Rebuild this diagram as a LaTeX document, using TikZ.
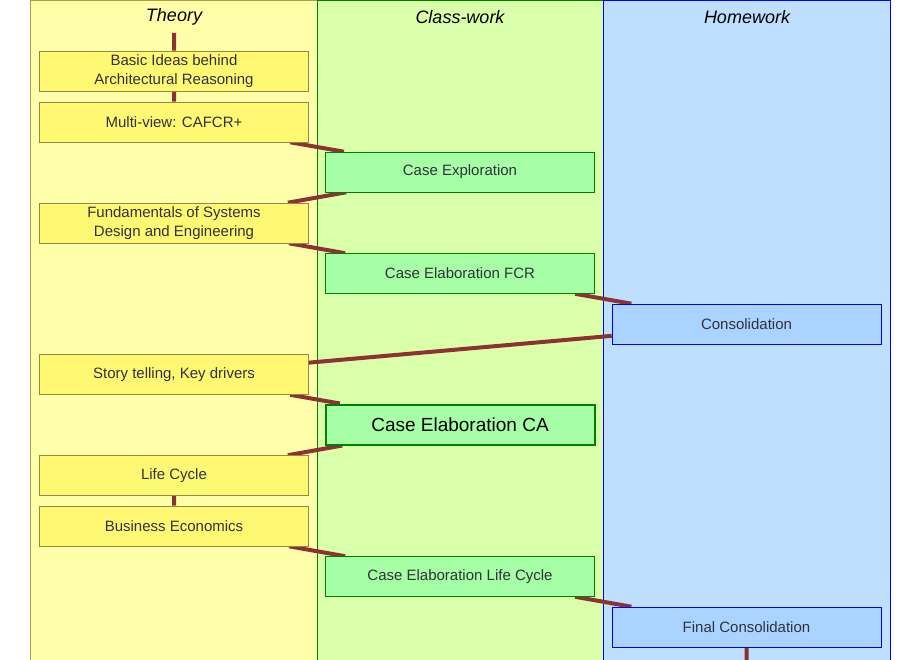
\documentclass[tikz,border=0pt]{standalone}
\usepackage{fontspec}
\setmainfont{Liberation Sans}
\usepackage{tikz}
\usetikzlibrary{backgrounds}
\definecolor{theorybg}{RGB}{255,255,170}
\definecolor{classbg}{RGB}{217,255,170}
\definecolor{homebg}{RGB}{191,223,255}
\definecolor{homebox}{RGB}{170,212,255}
\definecolor{linkred}{RGB}{140,50,50}
\definecolor{textgray}{RGB}{50,50,60}
\tikzset{
  column/.style={draw, line width=0.6pt},
  box/.style={draw, line width=0.6pt, minimum width=269pt, minimum height=40pt,
    align=center, text=textgray, font=\fontsize{15}{19}\selectfont, inner sep=1pt},
  theory/.style={box, fill=yellow!55, draw=yellow!50!black},
  class/.style={box, fill=green!35, draw=green!50!black},
  home/.style={box, fill=homebox, draw=blue},
  link/.style={draw=linkred, line width=4pt}
}
\begin{document}
\begin{tikzpicture}[x=1pt, y=-1pt]
  \useasboundingbox (0,0) rectangle (920,660);

  % theory
  \node[theory] (basic) at (174,71) {Basic Ideas behind\\Architectural Reasoning};
  \node[theory] (multi) at (174,122) {Multi-view: CAFCR+};
  \node[theory] (fund) at (174,223) {Fundamentals of Systems\\Design and Engineering};
  \node[theory] (story) at (174,374.5) {Story telling, Key drivers};
  \node[theory] (life) at (174,475.5) {Life Cycle};
  \node[theory] (econ) at (174,526) {Business Economics};

  % class-work
  \node[class] (explore) at (460,172) {Case Exploration};
  \node[class] (fcr) at (460,273.5) {Case Elaboration FCR};
  \node[class, line width=2pt, font=\fontsize{19}{22}\selectfont, text=black] (ca) at (460,424.5) {Case Elaboration CA};
  \node[class] (lcase) at (460,576.5) {Case Elaboration Life Cycle};

  % homework
  \node[home] (consol) at (746.5,324) {Consolidation};
  \node[home] (final) at (746.5,627) {Final Consolidation};

  \coordinate (start) at (174,33);
  \coordinate (end) at (746.5,660);

  \begin{scope}[on background layer]
    % columns
    \draw[column, fill=theorybg, draw=yellow!60!black] (30,0) rectangle (317,660);
    \draw[column, fill=classbg, draw=green!50!black] (317,0) rectangle (603,660);
    \draw[column, fill=homebg, draw=blue] (603,0) rectangle (890,660);
    \node[font=\fontsize{18}{20}\selectfont\itshape] (h1) at (174,17) {Theory};
    \node[font=\fontsize{18}{20}\selectfont\itshape] (h2) at (460,17) {Class-work};
    \node[font=\fontsize{18}{20}\selectfont\itshape] (h3) at (747,17) {Homework};
    \path[link] (start) -- (basic) -- (multi) -- (explore) -- (fund) -- (fcr)
      -- (consol) -- (story) -- (ca) -- (life) -- (econ) -- (lcase) -- (final) -- (end);
  \end{scope}
\end{tikzpicture}
\end{document}
